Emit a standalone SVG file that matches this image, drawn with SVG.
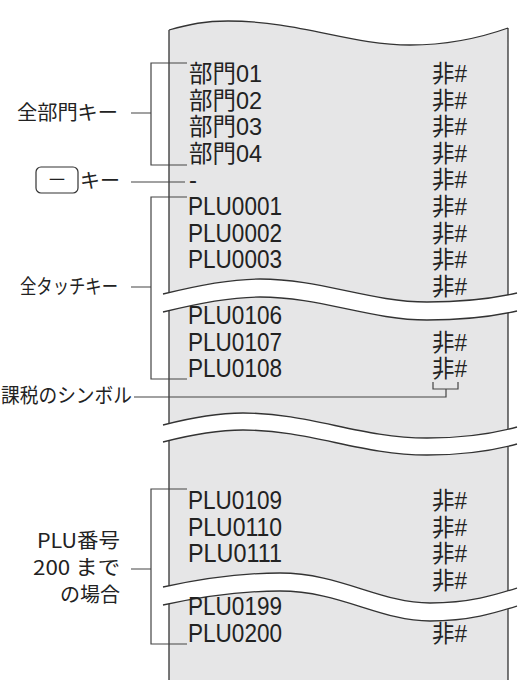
<svg xmlns="http://www.w3.org/2000/svg" width="522" height="680" viewBox="0 0 522 680">
<style>
.edge{fill:none;stroke:#333;stroke-width:1.3}
.band{fill:#fff;stroke:none}
.conn{fill:none;stroke:#444;stroke-width:1.2}
.row{font-family:"Liberation Sans","Noto Sans CJK JP",sans-serif;font-size:24px;fill:#222}
.plu{font-size:25.5px}
.lbl{font-family:"Noto Sans CJK JP","Liberation Sans",sans-serif;font-size:20px;fill:#222}
</style>
<rect width="522" height="680" fill="#fff"/>
<g id="paper">
<path d="M169,30 C190,24 205,21 228,21 C300,21 350,45 410,45 C450,45 480,38 508,28 L508,680 L169,680 Z" fill="#e6e6e7"/>
<path class="edge" d="M169,30 C190,24 205,21 228,21 C300,21 350,45 410,45 C450,45 480,38 508,28 M169,30 V680 M508,28 V680"/>
<path class="band" d="M163,294 C195,286 228,279 260,279 C320,279 370,302 427,302 C465,302 495,298 517,293 L517,311 C495,316 465,320 427,320 C370,320 320,297 260,297 C228,297 195,304 163,312 Z"/>
<path class="edge" d="M163,294 C195,286 228,279 260,279 C320,279 370,302 427,302 C465,302 495,298 517,293 M163,312 C195,304 228,297 260,297 C320,297 370,320 427,320 C465,320 495,316 517,311"/>
<path class="band" d="M163,425 C190,418 215,413 243,413 C310,413 360,438 427,438 C465,438 495,433 517,427 L517,444 C495,450 465,455 427,455 C360,455 310,430 243,430 C215,430 190,435 163,442 Z"/>
<path class="edge" d="M163,425 C190,418 215,413 243,413 C310,413 360,438 427,438 C465,438 495,433 517,427 M163,442 C190,435 215,430 243,430 C310,430 360,455 427,455 C465,455 495,450 517,444"/>
<path class="band" d="M163,587 C200,579 240,573 280,573 C340,573 380,603 430,603 C470,603 495,595 517,588 L517,606 C495,613 470,621 430,621 C380,621 340,591 280,591 C240,591 200,597 163,605 Z"/>
<path class="edge" d="M163,587 C200,579 240,573 280,573 C340,573 380,603 430,603 C470,603 495,595 517,588 M163,605 C200,597 240,591 280,591 C340,591 380,621 430,621 C470,621 495,613 517,606"/>
</g>
<g id="receipt-rows" class="row">
<text x="189" y="82" textLength="73" lengthAdjust="spacingAndGlyphs">部門01</text>
<text x="189" y="108.6" textLength="73" lengthAdjust="spacingAndGlyphs">部門02</text>
<text x="189" y="135.2" textLength="73" lengthAdjust="spacingAndGlyphs">部門03</text>
<text x="189" y="161.8" textLength="73" lengthAdjust="spacingAndGlyphs">部門04</text>
<text x="189" y="188.4">-</text>
<text class="plu" x="188" y="215" textLength="94" lengthAdjust="spacingAndGlyphs">PLU0001</text>
<text class="plu" x="188" y="241.6" textLength="94" lengthAdjust="spacingAndGlyphs">PLU0002</text>
<text class="plu" x="188" y="268.2" textLength="94" lengthAdjust="spacingAndGlyphs">PLU0003</text>
<text class="plu" x="188" y="324" textLength="94" lengthAdjust="spacingAndGlyphs">PLU0106</text>
<text class="plu" x="188" y="350.6" textLength="94" lengthAdjust="spacingAndGlyphs">PLU0107</text>
<text class="plu" x="188" y="377.2" textLength="94" lengthAdjust="spacingAndGlyphs">PLU0108</text>
<text class="plu" x="188" y="509" textLength="94" lengthAdjust="spacingAndGlyphs">PLU0109</text>
<text class="plu" x="188" y="535.6" textLength="94" lengthAdjust="spacingAndGlyphs">PLU0110</text>
<text class="plu" x="188" y="562.2" textLength="94" lengthAdjust="spacingAndGlyphs">PLU0111</text>
<text class="plu" x="188" y="615.4" textLength="94" lengthAdjust="spacingAndGlyphs">PLU0199</text>
<text class="plu" x="188" y="642" textLength="94" lengthAdjust="spacingAndGlyphs">PLU0200</text>
<text x="432" y="82" textLength="35" lengthAdjust="spacingAndGlyphs">非#</text>
<text x="432" y="108.6" textLength="35" lengthAdjust="spacingAndGlyphs">非#</text>
<text x="432" y="135.2" textLength="35" lengthAdjust="spacingAndGlyphs">非#</text>
<text x="432" y="161.8" textLength="35" lengthAdjust="spacingAndGlyphs">非#</text>
<text x="432" y="188.4" textLength="35" lengthAdjust="spacingAndGlyphs">非#</text>
<text x="432" y="215" textLength="35" lengthAdjust="spacingAndGlyphs">非#</text>
<text x="432" y="241.6" textLength="35" lengthAdjust="spacingAndGlyphs">非#</text>
<text x="432" y="268.2" textLength="35" lengthAdjust="spacingAndGlyphs">非#</text>
<text x="432" y="294.8" textLength="35" lengthAdjust="spacingAndGlyphs">非#</text>
<text x="432" y="350.6" textLength="35" lengthAdjust="spacingAndGlyphs">非#</text>
<text x="432" y="377.2" textLength="35" lengthAdjust="spacingAndGlyphs">非#</text>
<text x="432" y="509" textLength="35" lengthAdjust="spacingAndGlyphs">非#</text>
<text x="432" y="535.6" textLength="35" lengthAdjust="spacingAndGlyphs">非#</text>
<text x="432" y="562.2" textLength="35" lengthAdjust="spacingAndGlyphs">非#</text>
<text x="432" y="588.8" textLength="35" lengthAdjust="spacingAndGlyphs">非#</text>
<text x="432" y="642" textLength="35" lengthAdjust="spacingAndGlyphs">非#</text>
</g>
<g id="connectors" class="conn">
<path d="M131,113 H151 M187,63 H151 V165 H187"/>
<path d="M131,182 H185"/>
<path d="M131,287 H151 M187,197 H151 V379 H187"/>
<path d="M134,397 H446 V389 M433,382 V389 H458 V382"/>
<path d="M131,569 H151 M187,489 H151 V644 H187"/>
</g>
<g id="label-bumon"><text class="lbl" x="17" y="120" textLength="101" lengthAdjust="spacingAndGlyphs">全部門キー</text></g>
<g id="label-minus-key">
<rect x="36" y="167" width="42" height="26" rx="5" fill="#fff" stroke="#333" stroke-width="1.2"/>
<text class="lbl" x="57" y="187" text-anchor="middle">－</text>
<text class="lbl" x="120" y="188" text-anchor="end">キー</text>
</g>
<g id="label-touch"><text class="lbl" x="20" y="294" textLength="98" lengthAdjust="spacingAndGlyphs">全タッチキー</text></g>
<g id="label-tax"><text class="lbl" x="1" y="403" textLength="131" lengthAdjust="spacingAndGlyphs">課税のシンボル</text></g>
<g id="label-plu200">
<text class="lbl" x="37" y="548" textLength="83" lengthAdjust="spacingAndGlyphs">PLU番号</text>
<text class="lbl" x="33" y="575" textLength="87" lengthAdjust="spacingAndGlyphs">200 まで</text>
<text class="lbl" x="60" y="602" textLength="60" lengthAdjust="spacingAndGlyphs">の場合</text>
</g>
</svg>
